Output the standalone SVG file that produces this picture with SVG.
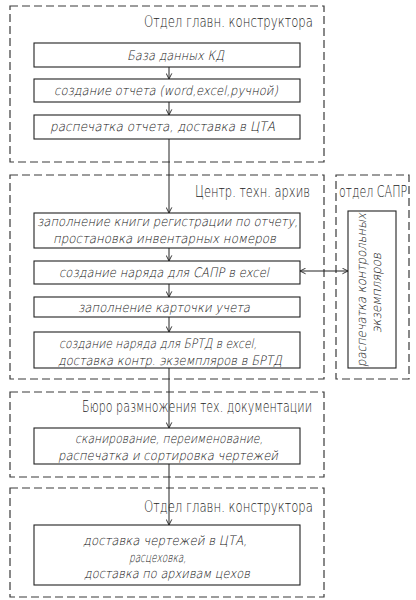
<svg xmlns="http://www.w3.org/2000/svg" width="416" height="600" viewBox="0 0 416 600">
<defs>
<style>
.area{fill:none;stroke:#3a3a3a;stroke-width:1.2;stroke-dasharray:8 4}
.box{fill:#fff;stroke:#222;stroke-width:1.1}
.ttl{font-family:"DejaVu Sans","DejaVu Sans Condensed",sans-serif;font-weight:200;font-size:15px;fill:#222}
.txt{font-family:"DejaVu Sans","DejaVu Sans Condensed",sans-serif;font-weight:200;font-size:13px;fill:#111}
.con{fill:none;stroke:#222;stroke-width:1}
</style>
<marker id="ah" viewBox="0 0 10 10" refX="9" refY="5" markerWidth="7" markerHeight="7" orient="auto-start-reverse" markerUnits="userSpaceOnUse">
<path d="M1,1 L9,5 L1,9" fill="none" stroke="#222" stroke-width="1.3"/>
</marker>
</defs>
<rect width="416" height="600" fill="#fff"/>

<g id="area-ogk1">
<rect class="area" x="10" y="6" width="314" height="156"/>
<text class="ttl" x="144" y="27" textLength="169" lengthAdjust="spacingAndGlyphs">Отдел главн. конструктора</text>
</g>
<g id="area-cta">
<rect class="area" x="10" y="175" width="314" height="204"/>
<text class="ttl" x="195" y="197" textLength="115" lengthAdjust="spacingAndGlyphs">Центр. техн. архив</text>
</g>
<g id="area-sapr">
<rect class="area" x="336" y="175" width="73" height="204"/>
<text class="ttl" transform="translate(339 197) scale(0.74 1)" x="0" y="0">отдел САПР</text>
</g>
<g id="area-brtd">
<rect class="area" x="10" y="392" width="314" height="85"/>
<text class="ttl" x="82" y="412" textLength="230" lengthAdjust="spacingAndGlyphs">Бюро размножения тех. документации</text>
</g>
<g id="area-ogk2">
<rect class="area" x="10" y="488" width="314" height="109"/>
<text class="ttl" x="144" y="512" textLength="169" lengthAdjust="spacingAndGlyphs">Отдел главн. конструктора</text>
</g>

<g id="connectors">
<line class="con" x1="169" y1="67" x2="169" y2="79" marker-end="url(#ah)"/>
<line class="con" x1="169" y1="102" x2="169" y2="115" marker-end="url(#ah)"/>
<line class="con" x1="169" y1="139" x2="169" y2="213" marker-end="url(#ah)"/>
<line class="con" x1="169" y1="248" x2="169" y2="261" marker-end="url(#ah)"/>
<line class="con" x1="169" y1="284" x2="169" y2="297" marker-end="url(#ah)"/>
<line class="con" x1="169" y1="317" x2="169" y2="332" marker-end="url(#ah)"/>
<line class="con" x1="169" y1="368" x2="169" y2="428" marker-end="url(#ah)"/>
<line class="con" x1="169" y1="464" x2="169" y2="525" marker-end="url(#ah)"/>
<line class="con" x1="300" y1="271" x2="348" y2="271" marker-start="url(#ah)" marker-end="url(#ah)"/>
</g>

<g id="n1">
<rect class="box" x="34" y="43" width="266" height="24"/>
<text class="txt" transform="translate(127 60) skewX(-12)" textLength="97" lengthAdjust="spacingAndGlyphs">База данных КД</text>
</g>
<g id="n2">
<rect class="box" x="34" y="79" width="266" height="23"/>
<text class="txt" transform="translate(54 95) skewX(-12)" textLength="224" lengthAdjust="spacingAndGlyphs">создание отчета (word,excel,ручной)</text>
</g>
<g id="n3">
<rect class="box" x="34" y="115" width="266" height="24"/>
<text class="txt" transform="translate(50 131) skewX(-12)" textLength="225" lengthAdjust="spacingAndGlyphs">распечатка отчета, доставка в ЦТА</text>
</g>
<g id="n4">
<rect class="box" x="34" y="213" width="266" height="35"/>
<text class="txt" transform="translate(37 226) skewX(-12)" textLength="261" lengthAdjust="spacingAndGlyphs">заполнение книги регистрации по отчету,</text>
<text class="txt" transform="translate(53 243) skewX(-12)" textLength="223" lengthAdjust="spacingAndGlyphs">простановка инвентарных номеров</text>
</g>
<g id="n5">
<rect class="box" x="34" y="261" width="266" height="23"/>
<text class="txt" transform="translate(59 277) skewX(-12)" textLength="210" lengthAdjust="spacingAndGlyphs">создание наряда для САПР в excel</text>
</g>
<g id="n6">
<rect class="box" x="34" y="297" width="266" height="20"/>
<text class="txt" transform="translate(78 312) skewX(-12)" textLength="172" lengthAdjust="spacingAndGlyphs">заполнение карточки учета</text>
</g>
<g id="n7">
<rect class="box" x="34" y="332" width="266" height="36"/>
<text class="txt" transform="translate(59 348) skewX(-12)" textLength="198" lengthAdjust="spacingAndGlyphs">создание наряда для БРТД в excel,</text>
<text class="txt" transform="translate(58 365) skewX(-12)" textLength="224" lengthAdjust="spacingAndGlyphs">доставка контр. экземпляров в БРТД</text>
</g>
<g id="n8">
<rect class="box" x="348" y="211" width="48" height="157"/>
<text class="txt" transform="translate(366 367) rotate(-90) skewX(-12)" textLength="154" lengthAdjust="spacingAndGlyphs">распечатка контрольных</text>
<text class="txt" transform="translate(381 333) rotate(-90) skewX(-12)" textLength="80" lengthAdjust="spacingAndGlyphs">экземпляров</text>
</g>
<g id="n9">
<rect class="box" x="34" y="428" width="266" height="36"/>
<text class="txt" transform="translate(75 443) skewX(-12)" textLength="188" lengthAdjust="spacingAndGlyphs">сканирование, переименование,</text>
<text class="txt" transform="translate(58 460) skewX(-12)" textLength="220" lengthAdjust="spacingAndGlyphs">распечатка и сортировка чертежей</text>
</g>
<g id="n10">
<rect class="box" x="34" y="525" width="266" height="60"/>
<text class="txt" transform="translate(83 545) skewX(-12)" textLength="164" lengthAdjust="spacingAndGlyphs">доставка чертежей в ЦТА,</text>
<text class="txt" transform="translate(129 562) skewX(-12)" textLength="57" lengthAdjust="spacingAndGlyphs">расцеховка,</text>
<text class="txt" transform="translate(84 578) skewX(-12)" textLength="166" lengthAdjust="spacingAndGlyphs">доставка по архивам цехов</text>
</g>
</svg>
